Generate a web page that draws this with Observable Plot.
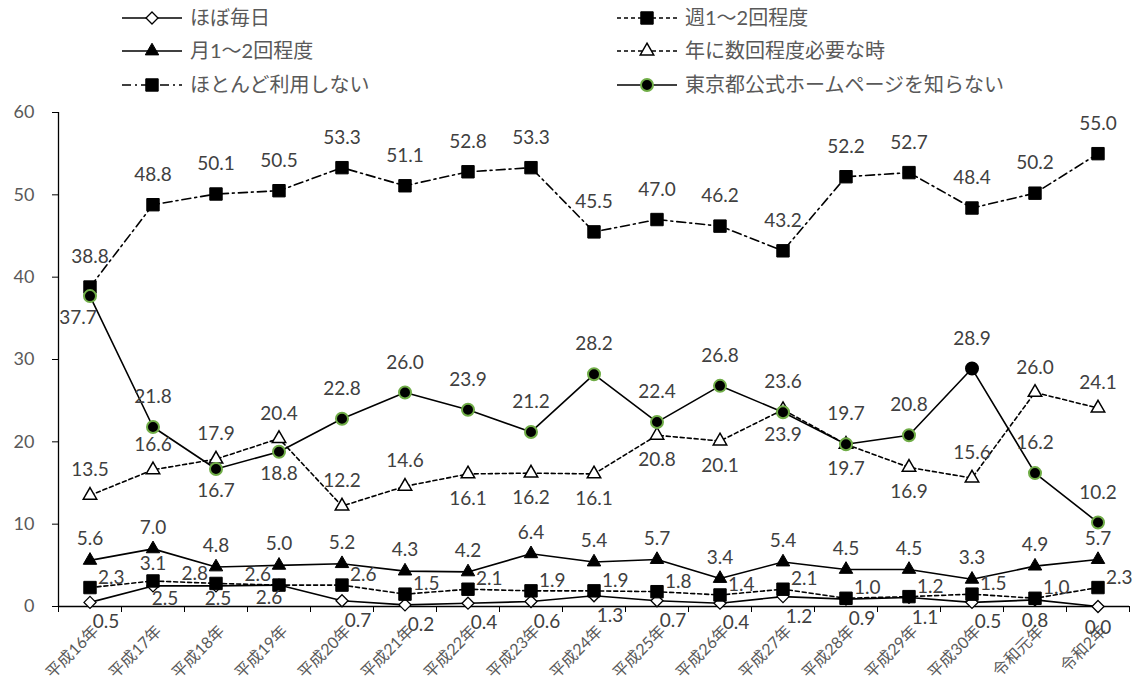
<!DOCTYPE html>
<html><head><meta charset="utf-8">
<script src="https://cdn.jsdelivr.net/npm/d3@7"></script>
<script src="https://cdn.jsdelivr.net/npm/@observablehq/plot@0.6"></script>
<style>
body{margin:0;background:#fff;font-family:Lato,"Noto Sans CJK JP",sans-serif;}
#wrap{position:relative;width:1136px;height:682px;overflow:hidden;background:#fff;}
#legend{position:absolute;left:0;top:0;}
#chart{position:absolute;left:0;top:100px;}
</style></head><body><div id="wrap"><svg id="legend" width="1136" height="100"></svg><div id="chart"></div></div>
<script>
// ---- data ----
const categories = ["平成16年","平成17年","平成18年","平成19年","平成20年","平成21年","平成22年","平成23年","平成24年","平成25年","平成26年","平成27年","平成28年","平成29年","平成30年","令和元年","令和2年"];
const seriesNames = ["ほぼ毎日","週1〜2回程度","月1〜2回程度","年に数回程度必要な時","ほとんど利用しない","東京都公式ホームページを知らない"];
const almostDaily  = [0.5,2.5,2.5,2.6,0.7,0.2,0.4,0.6,1.3,0.7,0.4,1.2,0.9,1.1,0.5,0.8,0.0];
const weekly       = [2.3,3.1,2.8,2.6,2.6,1.5,2.1,1.9,1.9,1.8,1.4,2.1,1.0,1.2,1.5,1.0,2.3];
const monthly      = [5.6,7.0,4.8,5.0,5.2,4.3,4.2,6.4,5.4,5.7,3.4,5.4,4.5,4.5,3.3,4.9,5.7];
const fewTimesYear = [13.5,16.6,17.9,20.4,12.2,14.6,16.1,16.2,16.1,20.8,20.1,23.9,19.7,16.9,15.6,26.0,24.1];
const rarelyUse    = [38.8,48.8,50.1,50.5,53.3,51.1,52.8,53.3,45.5,47.0,46.2,43.2,52.2,52.7,48.4,50.2,55.0];
const notKnown     = [37.7,21.8,16.7,18.8,22.8,26.0,23.9,21.2,28.2,22.4,26.8,23.6,19.7,20.8,28.9,16.2,10.2];
const yTicks = [0,10,20,30,40,50,60];

// ---- label placement (layout, not data) ----
const dailyLabelPos  = ["br","bsr","bs","bsl","br","br","br","br","br","br","br","br","br","br","br","b","b"];
const weeklyLabelPos = ["r","a","l","l","r","r","r","r","r","r","r","r","r","r","r","r","r"];
const monthlyLabelPos = categories.map(() => "a");
const fewLabelPos    = ["a","a","a","a","a","a","b","b","b","b","b","b","b","b","a","a","a"];
const rarelyLabelPos = categories.map(() => "a");
const knownLabelPos  = ["bl","a","b","b","a","a","a","a","a","a","a","a","a","a","a","a","a"];

// ---- styles ----
const GREEN = "#70AD47";
const series = [
  {values: almostDaily, pos: dailyLabelPos, dash: null, symbol: "diamond2", fill: "white", stroke: "black", sw: 1.3, r: 5.4,
   off: {br:[16,20,"middle"], bsr:[12,13,"middle"], bs:[2,13,"middle"], bsl:[-10,13,"middle"], b:[0,21,"middle"]}},
  {values: weekly, pos: weeklyLabelPos, dash: "4,3", symbol: "square", fill: "black", stroke: "black", sw: 1, r: 7,
   off: {r:[8,-10,"start"], a:[0,-17,"middle"], l:[-8,-10,"end"]}},
  {values: monthly, pos: monthlyLabelPos, dash: null, symbol: "triangle", fill: "black", stroke: "black", sw: 1, r: 5,
   off: {a:[0,-21,"middle"]}},
  {values: fewTimesYear, pos: fewLabelPos, dash: "4,3", symbol: "triangle", fill: "white", stroke: "black", sw: 1.5, r: 5,
   off: {a:[0,-25,"middle"], b:[0,25,"middle"]}},
  {values: rarelyUse, pos: rarelyLabelPos, dash: "9,4,2,4", symbol: "square", fill: "black", stroke: "black", sw: 1, r: 7,
   off: {a:[0,-30,"middle"]}},
  {values: notKnown, pos: knownLabelPos, dash: null, symbol: "circle", fill: "black", stroke: GREEN, sw: 2, r: 6,
   off: {a:[0,-30,"middle"], b:[0,22,"middle"], bl:[-12,22,"middle"]}}
];

const marks = [];
// axes
marks.push(Plot.ruleY([0], {stroke: "black", strokeWidth: 1.3}));
marks.push(Plot.ruleX([-0.5], {stroke: "black", strokeWidth: 1.3}));
marks.push(Plot.axisY({ticks: yTicks, tickSize: 6, tickPadding: 18, fontSize: 18, fill: "#595959", stroke: "black", label: null}));
marks.push(Plot.axisX({ticks: d3.range(-0.5, categories.length, 1), tickSize: 6, text: null, stroke: "black", label: null}));
marks.push(Plot.axisX({ticks: categories.map((_, i) => i), tickSize: 0, tickPadding: 20, tickRotate: -45,
  tickFormat: i => categories[i], fontSize: 16, fill: "#595959", label: null, dx: 6, dy: 2}));

series.forEach((s, k) => {
  const rows = s.values.map((v, i) => ({i, v, p: s.pos[i]}));
  marks.push(Plot.line(rows, {x: "i", y: "v", stroke: "black", strokeWidth: 1.6, strokeDasharray: s.dash || undefined}));
  marks.push(Plot.dot(rows, {x: "i", y: "v", symbol: s.symbol, r: s.r, fill: s.fill,
    stroke: k === 5 ? (d => d.i === 14 ? "black" : GREEN) : s.stroke, strokeWidth: s.sw}));
});
series.forEach((s) => {
  const rows = s.values.map((v, i) => ({i, v, p: s.pos[i]}));
  for (const [code, [dx, dy, anchor]] of Object.entries(s.off)) {
    marks.push(Plot.text(rows.filter(d => d.p === code), {x: "i", y: "v", text: d => d.v.toFixed(1),
      dx, dy, textAnchor: anchor, fontSize: 19, fill: "#404040"}));
  }
});

const chart = Plot.plot({
  width: 1136, height: 582,
  marginTop: 12, marginBottom: 76, marginLeft: 58, marginRight: 7,
  x: {type: "linear", domain: [-0.5, categories.length - 0.5]},
  y: {domain: [0, 60]},
  style: {fontFamily: 'Lato, "Noto Sans CJK JP", sans-serif', background: "white", overflow: "visible"},
  marks
});
document.getElementById("chart").appendChild(chart);

// ---- legend ----
const lg = d3.select("#legend");
const legendCols = [{x0: 122, x1: 182, tx: 190}, {x0: 617, x1: 677, tx: 685}];
const legendRows = [18, 51, 85];
const symMap = {diamond2: d3.symbolDiamond2, square: d3.symbolSquare, triangle: d3.symbolTriangle, circle: d3.symbolCircle};
series.forEach((s, k) => {
  const col = legendCols[k % 2], y = legendRows[Math.floor(k / 2)];
  const g = lg.append("g");
  g.append("line").attr("x1", col.x0).attr("x2", col.x1).attr("y1", y).attr("y2", y)
    .attr("stroke", "black").attr("stroke-width", 1.6).attr("stroke-dasharray", s.dash || null);
  g.append("path").attr("transform", `translate(${(col.x0 + col.x1) / 2},${y})`)
    .attr("d", d3.symbol().type(symMap[s.symbol]).size(Math.PI * s.r * s.r)())
    .attr("fill", s.fill).attr("stroke", s.stroke).attr("stroke-width", s.sw);
  g.append("text").attr("x", col.tx).attr("y", y).attr("dy", "0.35em")
    .attr("font-size", 20).attr("fill", "#595959")
    .style("font-family", 'Lato, "Noto Sans CJK JP", sans-serif')
    .text(seriesNames[k]);
});
</script></body></html>
